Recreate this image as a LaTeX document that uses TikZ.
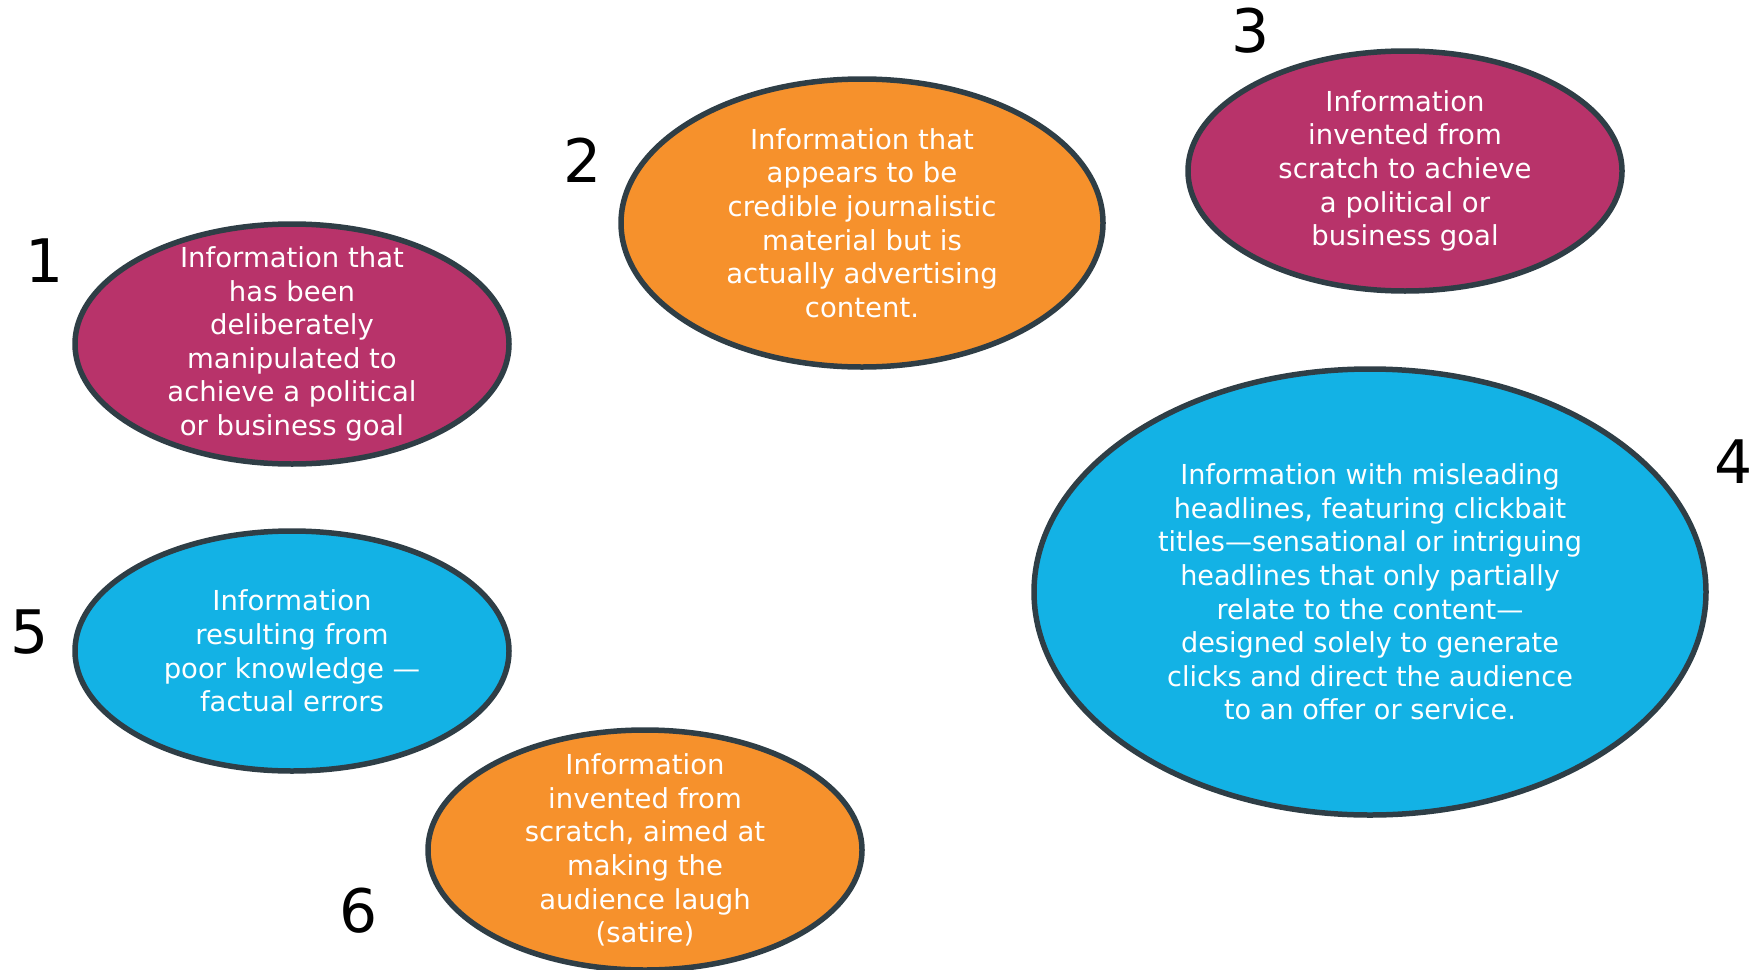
\documentclass[tikz,border=0pt]{standalone}
\usepackage{fontspec}
\setmainfont{DejaVu Sans}
\newfontfamily\condfont[FakeStretch=0.985]{DejaVu Sans}
\usetikzlibrary{shapes.geometric}
\definecolor{mag}{HTML}{B8336A}
\definecolor{org}{HTML}{F6912C}
\definecolor{cyn}{HTML}{13B2E5}
\definecolor{edge}{HTML}{2F3E46}
\tikzset{
  bub/.style={ellipse, draw=edge, line width=5.5pt, inner sep=0pt},
  txt/.style={text=white, align=center, inner sep=0pt, font=\fontsize{27.5}{33.6}\selectfont},
  num/.style={text=black, inner sep=0pt, font=\fontsize{60}{60}\selectfont}
}
\begin{document}
\begin{tikzpicture}[x=1pt,y=-1pt]
\useasboundingbox (0,0) rectangle (1755,969);
% ellipses
\node[bub, fill=mag, minimum width=434pt, minimum height=240pt] (e1) at (292,344) {};
\node[bub, fill=org, minimum width=482pt, minimum height=288pt] (e2) at (862,223) {};
\node[bub, fill=mag, minimum width=434pt, minimum height=240pt] (e3) at (1405,171) {};
\node[bub, fill=cyn, minimum width=672pt, minimum height=446pt] (e4) at (1370,592) {};
\node[bub, fill=cyn, minimum width=434pt, minimum height=240pt] (e5) at (292,651) {};
\node[bub, fill=org, minimum width=434pt, minimum height=240pt] (e6) at (645,850) {};
% texts
\node[txt] (t1) at (e1.center) {Information that\\has been\\deliberately\\manipulated to\\achieve a political\\or business goal};
\node[txt] (t2) at (e2.center) {Information that\\appears to be\\credible journalistic\\material but is\\actually advertising\\content.};
\node[txt] (t3) at (e3.center) {Information\\invented from\\scratch to achieve\\a political or\\business goal};
\node[txt, font=\condfont\fontsize{27.5}{33.6}\selectfont] (t4) at (e4.center) {Information with misleading\\headlines, featuring clickbait\\titles—sensational or intriguing\\headlines that only partially\\relate to the content—\\designed solely to generate\\clicks and direct the audience\\to an offer or service.};
\node[txt] (t5) at (e5.center) {Information\\resulting from\\poor knowledge —\\factual errors};
\node[txt] (t6) at (e6.center) {Information\\invented from\\scratch, aimed at\\making the\\audience laugh\\(satire)};
% numbers
\node[num] (n1) at (45,261) {1};
\node[num] (n2) at (583,160) {2};
\node[num] (n3) at (1251,31) {3};
\node[num] (n4) at (1734,462) {4};
\node[num] (n5) at (30,632) {5};
\node[num] (n6) at (359,911) {6};
\end{tikzpicture}
\end{document}
